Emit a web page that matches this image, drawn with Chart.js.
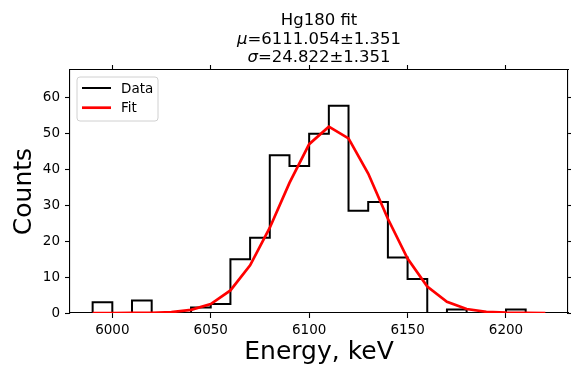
<!DOCTYPE html>
<html>
<head>
<meta charset="utf-8">
<title>Hg180 fit</title>
<script src="https://cdn.jsdelivr.net/npm/chart.js@4.4.0/dist/chart.umd.min.js"></script>
<style>
  body { margin: 0; background: #fff; }
  canvas { display: block; }
</style>
</head>
<body>
<canvas id="fitChart" width="571" height="368"></canvas>
<script>
// histogram: bin edges in keV, counts per bin
var binEdges = [5990, 6000, 6010, 6020, 6030, 6040, 6050, 6060, 6070, 6080, 6090, 6100,
                6110, 6120, 6130, 6140, 6150, 6160, 6170, 6180, 6190, 6200, 6210, 6220];
var counts = [3, 0, 3.5, 0, 0, 1.5, 2.5, 15, 21, 44, 41, 50,
              57.8, 28.5, 31, 15.5, 9.5, 0, 1, 0, 0, 1, 0];

// gaussian fit sampled on the bin edges
var fitEnergies = [5990, 6000, 6010, 6020, 6030, 6040, 6050, 6060, 6070, 6080, 6090, 6100,
                   6110, 6120, 6130, 6140, 6150, 6160, 6170, 6180, 6190, 6200, 6210, 6220];
var fitCounts = [0.0004, 0.002, 0.013, 0.06, 0.25, 0.86, 2.5, 6.3, 13.3, 23.8, 36.3, 47.1,
                 52.0, 48.7, 38.9, 26.3, 15.2, 7.4, 3.1, 1.1, 0.33, 0.09, 0.02, 0.003];

var xTicks = [6000, 6050, 6100, 6150, 6200];
var yTicks = [0, 10, 20, 30, 40, 50, 60];
var titleLines = ['Hg180 fit', 'μ=6111.054±1.351', 'σ=24.822±1.351'];

var FONT = 'DejaVu Sans';

function histPoints() {
  var pts = [{x: binEdges[0], y: 0}];
  for (var i = 0; i < counts.length; i++) {
    pts.push({x: binEdges[i], y: counts[i]});
  }
  pts.push({x: binEdges[binEdges.length - 1], y: 0});
  return pts;
}

function fitPoints() {
  var pts = [];
  for (var i = 0; i < fitEnergies.length; i++) {
    pts.push({x: fitEnergies[i], y: fitCounts[i]});
  }
  return pts;
}

function setTicks(list) {
  return function(scale) {
    scale.ticks = list.map(function(v) { return {value: v}; });
  };
}

// plain numbers, no thousands separator
function plainLabel(value) {
  return String(value);
}

var axisGrid = { drawOnChartArea: false, color: '#000', tickLength: 5, tickWidth: 1.1 };
var axisBorder = { color: '#000', width: 1.1 };

// title (three lines, greek symbols in italic) above the plot
var titlePlugin = {
  id: 'fitTitle',
  afterDraw: function(chart) {
    var ctx = chart.ctx;
    var area = chart.chartArea;
    var cx = (area.left + area.right) / 2;
    var size = 16.5;
    ctx.save();
    ctx.fillStyle = '#000';
    ctx.textBaseline = 'alphabetic';
    for (var i = 0; i < titleLines.length; i++) {
      var line = titleLines[i];
      var y = area.top - 8 - (titleLines.length - 1 - i) * 18.5;
      var first = line.charAt(0);
      if (first === 'μ' || first === 'σ') {
        var rest = line.slice(1);
        ctx.font = 'italic ' + size + 'px "' + FONT + '"';
        var w1 = ctx.measureText(first).width;
        ctx.font = size + 'px "' + FONT + '"';
        var w2 = ctx.measureText(rest).width;
        var x0 = cx - (w1 + w2) / 2;
        ctx.textAlign = 'left';
        ctx.font = 'italic ' + size + 'px "' + FONT + '"';
        ctx.fillText(first, x0, y);
        ctx.font = size + 'px "' + FONT + '"';
        ctx.fillText(rest, x0 + w1, y);
      } else {
        ctx.textAlign = 'center';
        ctx.font = size + 'px "' + FONT + '"';
        ctx.fillText(line, cx, y);
      }
    }
    ctx.restore();
  }
};

// legend box in the upper left corner of the plot
var legendPlugin = {
  id: 'boxLegend',
  afterDraw: function(chart) {
    var ctx = chart.ctx;
    var area = chart.chartArea;
    var x = area.left + 7, y = area.top + 7, w = 81, h = 44, r = 3;
    ctx.save();
    ctx.beginPath();
    ctx.moveTo(x + r, y);
    ctx.arcTo(x + w, y, x + w, y + h, r);
    ctx.arcTo(x + w, y + h, x, y + h, r);
    ctx.arcTo(x, y + h, x, y, r);
    ctx.arcTo(x, y, x + w, y, r);
    ctx.closePath();
    ctx.fillStyle = 'rgba(255,255,255,0.8)';
    ctx.fill();
    ctx.strokeStyle = '#d0d0d0';
    ctx.lineWidth = 1;
    ctx.stroke();

    var items = chart.data.datasets;
    ctx.font = '13.5px "' + FONT + '"';
    ctx.textBaseline = 'middle';
    ctx.textAlign = 'left';
    for (var i = 0; i < items.length; i++) {
      var ly = y + 11 + i * 19.7;
      ctx.beginPath();
      ctx.moveTo(x + 5, ly);
      ctx.lineTo(x + 34, ly);
      ctx.strokeStyle = items[i].borderColor;
      ctx.lineWidth = items[i].borderWidth;
      ctx.stroke();
      ctx.fillStyle = '#000';
      ctx.fillText(items[i].label, x + 44, ly + 1);
    }
    ctx.restore();
  }
};

window.onload = function() {
  var ctx = document.getElementById('fitChart').getContext('2d');
  new Chart(ctx, {
    type: 'line',
    data: {
      datasets: [
        {
          label: 'Data',
          data: histPoints(),
          borderColor: '#000',
          borderWidth: 2,
          stepped: 'before',
          pointRadius: 0,
          fill: false,
          order: 2
        },
        {
          label: 'Fit',
          data: fitPoints(),
          borderColor: '#ff0000',
          borderWidth: 2.7,
          tension: 0,
          pointRadius: 0,
          fill: false,
          order: 1
        }
      ]
    },
    options: {
      responsive: false,
      animation: false,
      devicePixelRatio: 1,
      layout: { padding: { top: 65, left: 0, right: 0, bottom: 0 } },
      plugins: {
        legend: { display: false },
        tooltip: { enabled: false },
        title: { display: false }
      },
      scales: {
        x: {
          type: 'linear',
          position: 'bottom',
          min: 5978.5,
          max: 6231.5,
          afterBuildTicks: setTicks(xTicks),
          afterFit: function(s) { s.height = 55; },
          grid: axisGrid,
          border: axisBorder,
          ticks: { color: '#000', font: { family: FONT, size: 13.5 }, padding: 4, maxRotation: 0,
                   callback: plainLabel },
          title: { display: true, text: 'Energy, keV', color: '#000',
                   font: { family: FONT, size: 25 }, padding: { top: 0, bottom: 1 } }
        },
        xTop: {
          type: 'linear',
          position: 'top',
          min: 5978.5,
          max: 6231.5,
          afterBuildTicks: setTicks(xTicks),
          afterFit: function(s) { s.height = 5; },
          grid: axisGrid,
          border: axisBorder,
          ticks: { display: false }
        },
        y: {
          type: 'linear',
          position: 'left',
          min: 0,
          max: 67.8,
          afterBuildTicks: setTicks(yTicks),
          afterFit: function(s) { s.width = 70; },
          grid: axisGrid,
          border: axisBorder,
          ticks: { color: '#000', font: { family: FONT, size: 13.5 }, padding: 5,
                   callback: plainLabel },
          title: { display: true, text: 'Counts', color: '#000',
                   font: { family: FONT, size: 25 }, padding: { top: 9.5, bottom: 0 } }
        },
        yRight: {
          type: 'linear',
          position: 'right',
          min: 0,
          max: 67.8,
          afterBuildTicks: setTicks(yTicks),
          afterFit: function(s) { s.width = 3; },
          grid: axisGrid,
          border: axisBorder,
          ticks: { display: false }
        }
      }
    },
    plugins: [titlePlugin, legendPlugin]
  });
};
</script>
</body>
</html>
